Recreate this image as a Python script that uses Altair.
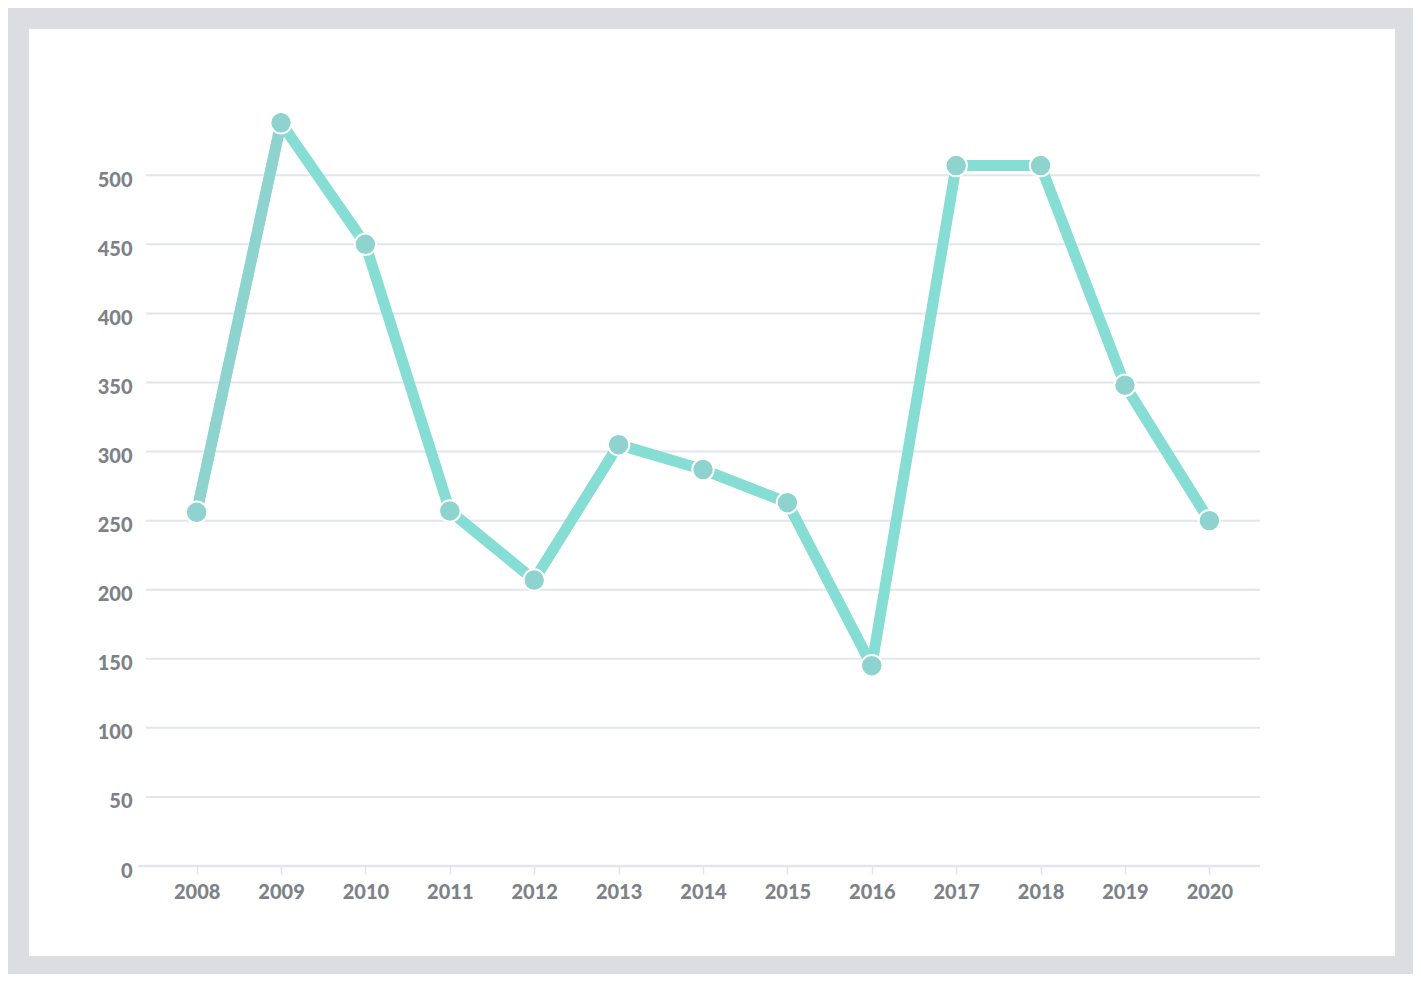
import altair as alt
import pandas as pd

years = ["2008", "2009", "2010", "2011", "2012", "2013", "2014",
         "2015", "2016", "2017", "2018", "2019", "2020"]
values = [256, 538, 450, 257, 207, 305, 287, 263, 145, 507, 507, 348, 250]
grid_values = [0, 50, 100, 150, 200, 250, 300, 350, 400, 450, 500]

df = pd.DataFrame({"year": years, "value": values})
first_seg = df.iloc[:2]
grid_df = pd.DataFrame({"value": grid_values})
panel_df = pd.DataFrame({"a": [0]})

LINE = "#86ddd4"
POINT = "#8fd3cf"
LABEL = "#7d8288"
GRID = "#e2e6ec"
FONT = "Lato"

x_enc = alt.X("year:O", sort=years,
              scale=alt.Scale(type="point", padding=0.6),
              axis=alt.Axis(title=None, labelAngle=0, labelFont=FONT, labelFontSize=20,
                            labelFontWeight=900, labelColor=LABEL, labelPadding=8,
                            domain=False,
                            ticks=True, tickColor=GRID, tickSize=8, tickWidth=1.5,
                            grid=False, zindex=1))
y_scale = alt.Scale(domain=[0, 540], nice=False, zero=True)
y_enc = alt.Y("value:Q", scale=y_scale,
              axis=alt.Axis(title=None, values=grid_values, labelFont=FONT, labelFontSize=20,
                            labelFontWeight=900, labelColor=LABEL, labelPadding=14,
                            labelOffset=5, domain=False, ticks=False, grid=False, zindex=1))

panel = alt.Chart(panel_df).mark_rect(color="white").encode(
    x=alt.value(-117), x2=alt.value(1249), y=alt.value(-91), y2=alt.value(836)
)

grid = alt.Chart(grid_df).mark_rule(color=GRID, strokeWidth=2).encode(y=y_enc)

baseline = alt.Chart(panel_df).mark_rule(color=GRID, strokeWidth=2.5).encode(
    x=alt.value(-8), x2=alt.value(1114), y=alt.value(746)
)

line = alt.Chart(df).mark_line(color=LINE, strokeWidth=11, strokeJoin="round").encode(
    x=x_enc, y=alt.Y("value:Q"))
line1 = alt.Chart(first_seg).mark_line(color=POINT, strokeWidth=11, strokeJoin="round").encode(
    x=alt.X("year:O", sort=years), y=alt.Y("value:Q"))
points = alt.Chart(df).mark_point(filled=True, size=460, fill=POINT, stroke="white",
                                  strokeWidth=2, opacity=1).encode(
    x=alt.X("year:O", sort=years), y=alt.Y("value:Q"))

chart = alt.layer(panel, grid, baseline, line, line1, points).properties(
    width=1114, height=746,
    autosize=alt.AutoSizeParams(type="none"),
    padding={"left": 138, "top": 112, "right": 153, "bottom": 108},
).configure(background="#dcdde0").configure_view(stroke=None)

chart.save("out.html", embed_options={"renderer": "svg", "actions": False})
